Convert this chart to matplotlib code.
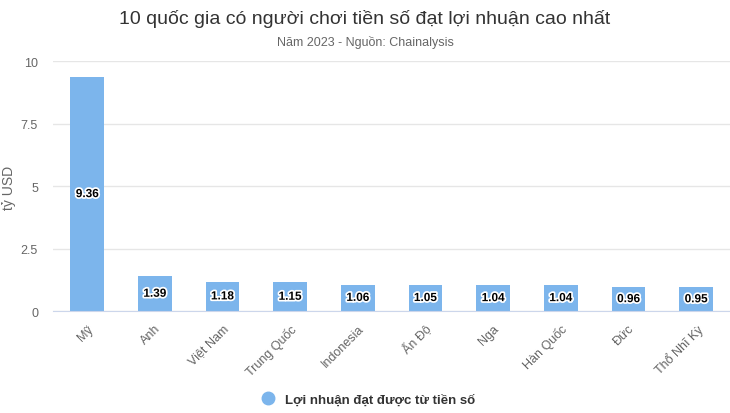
import matplotlib.pyplot as plt
import matplotlib.patheffects as pe
from matplotlib.lines import Line2D

plt.rcParams['font.family'] = ['Liberation Sans', 'DejaVu Sans']

countries = ['Mỹ', 'Anh', 'Việt Nam', 'Trung Quốc', 'Indonesia', 'Ấn Độ',
             'Nga', 'Hàn Quốc', 'Đức', 'Thổ Nhĩ Kỳ']
profits = [9.36, 1.39, 1.18, 1.15, 1.06, 1.05, 1.04, 1.04, 0.96, 0.95]
yticks = [0, 2.5, 5, 7.5, 10]
ytick_labels = ['0', '2.5', '5', '7.5', '10']

bar_color = '#7cb5ec'

fig = plt.figure(figsize=(7.3, 4.14), dpi=100)
ax = fig.add_axes([0.073, 0.246, 0.927, 0.604])

x = range(len(countries))
bars = ax.bar(x, profits, width=0.5, color=bar_color, zorder=2)

for i, v in enumerate(profits):
    ax.text(i, v / 2, f'{v:.2f}', ha='center', va='center', fontsize=8.5,
            fontweight='bold', color='black', zorder=3,
            path_effects=[pe.withStroke(linewidth=2.5, foreground='white')])

ax.set_xlim(-0.5, len(countries) - 0.5)
ax.set_ylim(0, 10)
ax.set_yticks(yticks)
ax.set_yticklabels(ytick_labels)
ax.set_xticks(list(x))
ax.set_xticklabels(countries, rotation=45, ha='right', rotation_mode='anchor')

ax.tick_params(axis='y', length=0, labelsize=9, labelcolor='#666666', pad=11)
ax.tick_params(axis='x', length=0, labelsize=9, labelcolor='#666666', pad=8)
ax.grid(axis='y', color='#e6e6e6', linewidth=1, zorder=0)
for s in ['top', 'right', 'left']:
    ax.spines[s].set_visible(False)
ax.spines['bottom'].set_color('#ccd6eb')

fig.text(0.012, 0.546, 'tỷ USD', rotation=90, ha='center', va='center',
         fontsize=10, color='#666666')

fig.text(0.5, 0.955, '10 quốc gia có người chơi tiền số đạt lợi nhuận cao nhất',
         ha='center', va='center', fontsize=14, color='#333333')
fig.text(0.5, 0.898, 'Năm 2023 - Nguồn: Chainalysis',
         ha='center', va='center', fontsize=9, color='#666666')

handle = Line2D([], [], marker='o', linestyle='none', markersize=9,
                markerfacecolor=bar_color, markeredgecolor=bar_color)
fig.legend([handle], ['Lợi nhuận đạt được từ tiền số'], loc='center',
           bbox_to_anchor=(0.5, 0.033), frameon=False, handletextpad=0.3,
           prop={'size': 9.5, 'weight': 'bold'}, labelcolor='#333333')

fig.savefig('out.png', dpi=100)
